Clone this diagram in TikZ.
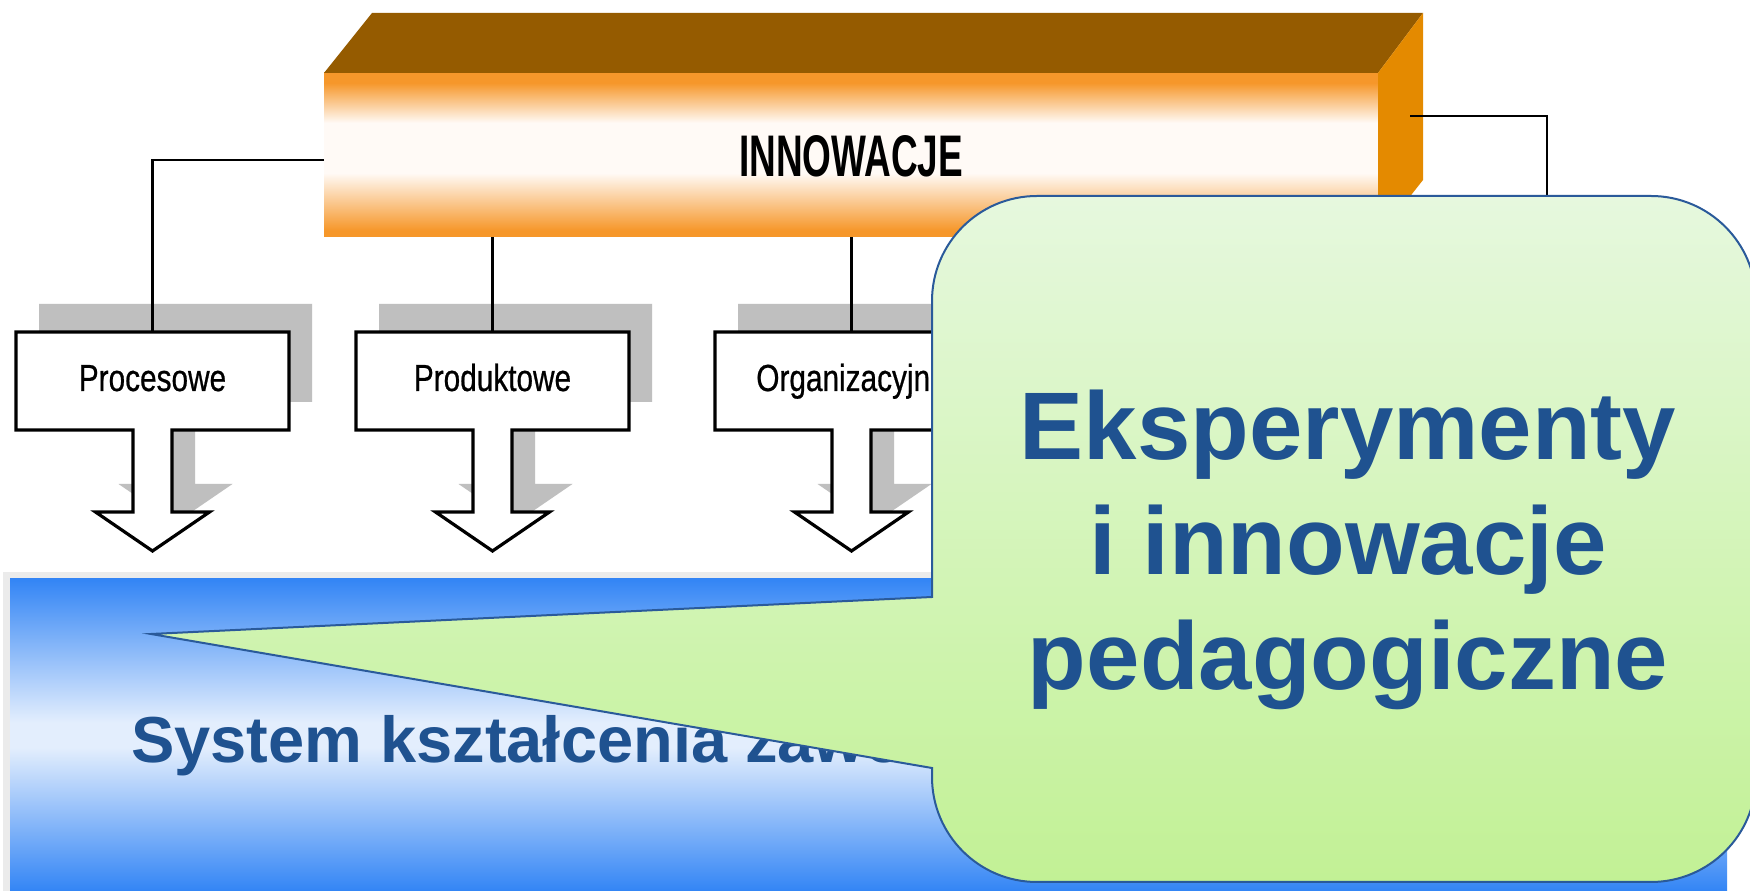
\documentclass[tikz,border=0pt]{standalone}
\usepackage{fontspec}
\setmainfont{Liberation Sans}
\newfontfamily\narrowfont[FakeStretch=0.79,FakeBold=0.6]{Liberation Sans}
\newfontfamily\innfont[FakeStretch=0.63]{Liberation Sans}
\usetikzlibrary{calc}
\definecolor{topface}{HTML}{955B00}
\definecolor{sideface}{HTML}{E48A00}
\definecolor{orng}{HTML}{F6972A}
\definecolor{warmwhite}{HTML}{FFFAF6}
\definecolor{bluedark}{HTML}{3385F5}
\definecolor{bluelight}{HTML}{E3EEFD}
\definecolor{framegray}{HTML}{EBEBEB}
\definecolor{shadowgray}{HTML}{BFBFBF}
\definecolor{textblue}{HTML}{1F5290}
\definecolor{greentop}{HTML}{E6F8DE}
\definecolor{greenbot}{HTML}{C2F195}
\definecolor{calloutline}{HTML}{2A5A9A}
\pgfdeclareverticalshading{frontshade}{100bp}{color(0bp)=(orng); color(27bp)=(orng); color(44.5bp)=(warmwhite); color(59.8bp)=(warmwhite); color(72bp)=(orng); color(100bp)=(orng)}
\pgfdeclareverticalshading{bandshade}{100bp}{color(0bp)=(bluedark); color(25bp)=(bluedark); color(48bp)=(bluelight); color(52bp)=(bluelight); color(75bp)=(bluedark); color(100bp)=(bluedark)}
\pgfdeclarelayer{back}
\pgfsetlayers{back,main}
\newcommand\catshape[4]{\path[#2] ($(#1.north west)+(#3,#4)$) -- ($(#1.north east)+(#3,#4)$) -- ($(#1.south east)+(#3,#4)$) -- ($(#1.south)+(19.5+#3,#4)$) -- ($(#1.south)+(19.5+#3,-82+#4)$) -- ($(#1.south)+(57+#3,-82+#4)$) -- ($(#1.south)+(#3,-121+#4)$) -- ($(#1.south)+(-57+#3,-82+#4)$) -- ($(#1.south)+(-19.5+#3,-82+#4)$) -- ($(#1.south)+(-19.5+#3,#4)$) -- ($(#1.south west)+(#3,#4)$) -- cycle;}
\tikzset{
  catbox/.style={rectangle, draw=none, minimum width=273pt, minimum height=98pt, inner sep=0pt, outer sep=0pt, font=\narrowfont\fontsize{37.7}{40}\selectfont, text height=27pt, text depth=7pt},
  boxline/.style={draw=black, line width=3.2pt, fill=white, line join=miter},
  shadowfill/.style={fill=shadowgray, draw=none},
  conn/.style={draw=black, line width=2.5pt},
  frontface/.style={rectangle, minimum width=1054pt, minimum height=164pt, inner sep=0pt, outer sep=0pt, shading=frontshade, font=\innfont\bfseries\fontsize{58.7}{60}\selectfont, text height=44pt, text depth=0pt},
  callout/.style={draw=calloutline, line width=2pt, top color=greentop, bottom color=greenbot},
  bigtext/.style={text=textblue, font=\bfseries\fontsize{96}{115}\selectfont, align=center, inner sep=0pt},
  systext/.style={text=textblue, font=\bfseries\fontsize{65}{70}\selectfont, inner sep=0pt, anchor=base west}
}
\begin{document}
\begin{tikzpicture}[x=1pt, y=1pt]
\useasboundingbox (0,0) rectangle (1750,891);
\clip (0,0) rectangle (1750,891);
\begin{pgfonlayer}{back}
\fill[white] (0,0) rectangle (1750,891);
\end{pgfonlayer}
% blue panel
\fill[framegray] (3,0) rectangle (1727,319);
\path[shading=bandshade] (10,0) rectangle (1727,312);
\node[systext] (systxt) at (131,128) {System kształcenia zawodowego};
% orange 3D box
\node[frontface] (front) at (851,736) {INNOWACJE};
\fill[topface] (front.north west) -- (372,878) -- (1423,878) -- (front.north east) -- cycle;
\fill[sideface] (front.north east) -- (1423,878) -- (1423,711) -- (front.south east) -- cycle;
% category boxes
\node[catbox] (p1) at (152.5,510) {Procesowe};
\node[catbox] (p2) at (492.5,510) {Produktowe};
\node[catbox] (p3) at (851.5,510) {Organizacyjne};
\begin{pgfonlayer}{back}
\catshape{p1}{shadowfill}{23}{28}
\catshape{p2}{shadowfill}{23}{28}
\catshape{p3}{shadowfill}{23}{28}
\catshape{p1}{boxline}{0}{0}
\catshape{p2}{boxline}{0}{0}
\catshape{p3}{boxline}{0}{0}
\end{pgfonlayer}
% connectors
\coordinate (rf) at (1410,775);
\coordinate (rc) at (1547,695);
\draw[conn] ([yshift=-5pt]front.west) -| (p1.north);
\draw[conn] (p2.north |- front.south) -- (p2.north);
\draw[conn] (p3.north |- front.south) -- (p3.north);
\draw[conn] (rf) -| (rc);
% callout
\path[callout] (932,294) -- (151,257) -- (932,123) -- (932,114) arc[start angle=180,end angle=270,radius=105] -- (1651,9) arc[start angle=270,end angle=360,radius=105] -- (1756,590) arc[start angle=0,end angle=90,radius=105] -- (1037,695) arc[start angle=90,end angle=180,radius=105] -- cycle;
\node[bigtext] (exp) at (1348,341) {Eksperymenty\\i innowacje\\pedagogiczne};
\end{tikzpicture}
\end{document}
